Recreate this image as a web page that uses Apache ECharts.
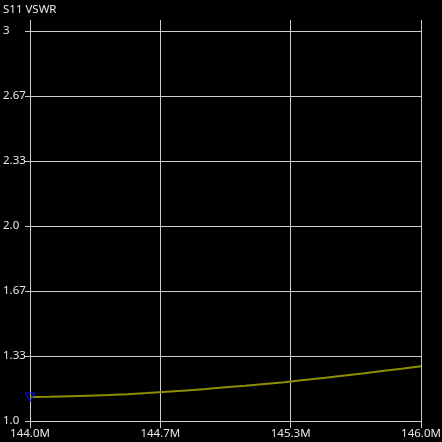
<!DOCTYPE html>
<html>
<head>
<meta charset="utf-8">
<style>
html,body{margin:0;padding:0;background:#000;overflow:hidden;}
#c{width:442px;height:442px;}
</style>
<script src="https://cdn.jsdelivr.net/npm/echarts@6/dist/echarts.min.js"></script>
</head>
<body>
<div id="c"></div>
<script>
var freqsMHz = [144.0,144.1,144.2,144.3,144.4,144.5,144.6,144.7,144.8,144.9,145.0,145.1,145.2,145.3,145.4,145.5,145.6,145.7,145.8,145.9,146.0];
var vswr = [1.123,1.124,1.127,1.130,1.133,1.137,1.143,1.150,1.157,1.164,1.173,1.181,1.190,1.199,1.210,1.221,1.232,1.243,1.256,1.268,1.281];
var yTickLabels = ['1.0','1.33','1.67','2.0','2.33','2.67','3'];
var xTickLabels = ['144.0M','144.7M','145.3M','146.0M'];
var markerFreq = 144.0, markerVswr = 1.123;

var F0 = 144.0, FSTEP = 2/3;   // x tick spacing in MHz
var V0 = 1.0, VSTEP = 1/3;     // y tick spacing
function fx(f){ return (f - F0) / FSTEP; }
function fy(v){ return (v - V0) / VSTEP; }

var lineData = freqsMHz.map(function(f,i){ return [fx(f), fy(vswr[i])]; });

var chart = echarts.init(document.getElementById('c'), null, {renderer:'canvas'});
var txt = '#e8e8e8', grid = '#cccccc', ff = 'Noto Sans';
chart.setOption({
  backgroundColor:'#000',
  animation:false,
  title:{text:'S11 VSWR', left:3, top:4, padding:0, textStyle:{color:txt, fontSize:11.5, fontWeight:'normal', fontFamily:ff}},
  grid:{left:30, right:21, top:31, bottom:21, containLabel:false, outerBoundsMode:'none'},
  xAxis:[{
    type:'value', min:0, max:3, interval:1, position:'bottom',
    axisLine:{show:false},
    axisTick:{show:true, length:7, lineStyle:{color:grid}},
    splitLine:{show:true, lineStyle:{color:grid, width:1}},
    axisLabel:{color:txt, fontSize:11.5, margin:7, fontFamily:ff, formatter:function(v){ return xTickLabels[Math.round(v)]; }}
  },{
    type:'value', min:0, max:3, interval:1, position:'top',
    axisLine:{show:false},
    axisTick:{show:true, length:11, lineStyle:{color:grid}},
    splitLine:{show:false}, axisLabel:{show:false}
  }],
  yAxis:{
    type:'value', min:0, max:6, interval:1,
    axisLine:{show:false},
    axisTick:{show:true, length:5, lineStyle:{color:grid}},
    splitLine:{show:true, lineStyle:{color:grid, width:1}},
    axisLabel:{color:txt, fontSize:11.5, margin:27, align:'left', fontFamily:ff, formatter:function(v){ return yTickLabels[Math.round(v)]; }}
  },
  series:[{
    type:'line', data:lineData, showSymbol:false, symbol:'none',
    lineStyle:{color:'#8e8e00', width:2}, z:5
  },{
    type:'scatter', data:[[fx(markerFreq), fy(markerVswr)]],
    symbol:'triangle', symbolRotate:180, symbolSize:[9,8],
    itemStyle:{color:'rgba(0,0,0,0)', borderColor:'#1010ff', borderWidth:1.3}, z:6
  }]
});
</script>
</body>
</html>
